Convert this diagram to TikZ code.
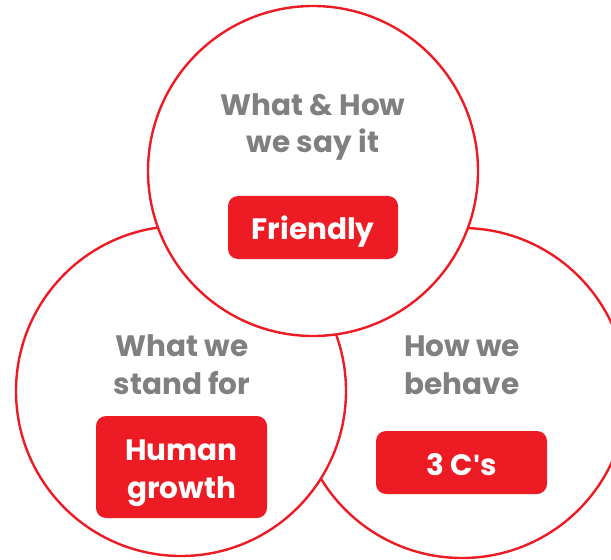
\documentclass[tikz,border=0pt]{standalone}
\usepackage{fontspec}
\setmainfont{Poppins}
\newfontfamily\aposfont{Liberation Sans}
\definecolor{cred}{HTML}{ED1C24}
\definecolor{cgray}{HTML}{808080}
\begin{document}
\begin{tikzpicture}[x=1bp,y=-1bp,
  ring/.style={draw=cred,line width=2.4bp,fill=white},
  headtxt/.style={anchor=base,text=cgray,font=\fontsize{29.5bp}{37bp}\selectfont\bfseries,inner sep=0pt},
  boxtxt/.style={anchor=base,text=white,font=\fontsize{29.5bp}{37bp}\selectfont\bfseries,inner sep=0pt},
  redbox/.style={fill=cred,rounded corners=10bp,inner sep=0pt}]
\useasboundingbox (0,0) rectangle (611,560);
\clip (0,0) rectangle (611,560);
% circles: right, left, top
\draw[ring] (462,393) circle[radius=165];
\draw[ring] (181,391) circle[radius=165];
\draw[ring] (313,171) circle[radius=165];
% top
\node[headtxt] (t1) at (313,116) {What \& How};
\node[headtxt] (t2) at (313,153) {we say it};
\node[redbox,minimum width=170bp,minimum height=63bp] (b1) at (313,227.5) {};
\node[boxtxt] (f1) at (313,240) {Friendly};
% left
\node[headtxt] (l1) at (182,356) {What we};
\node[headtxt] (l2) at (182,394) {stand for};
\node[redbox,minimum width=171bp,minimum height=102bp] (b2) at (181.5,467) {};
\node[boxtxt] (h1) at (181.5,460) {Human};
\node[boxtxt] (h2) at (181.5,498) {growth};
% right
\node[headtxt] (r1) at (462,356) {How we};
\node[headtxt] (r2) at (462,394) {behave};
\node[redbox,minimum width=171bp,minimum height=63bp] (b3) at (461.5,462.5) {};
\node[boxtxt] (c1) at (461.5,475) {3 C{\aposfont\char"27}s};
\end{tikzpicture}
\end{document}
